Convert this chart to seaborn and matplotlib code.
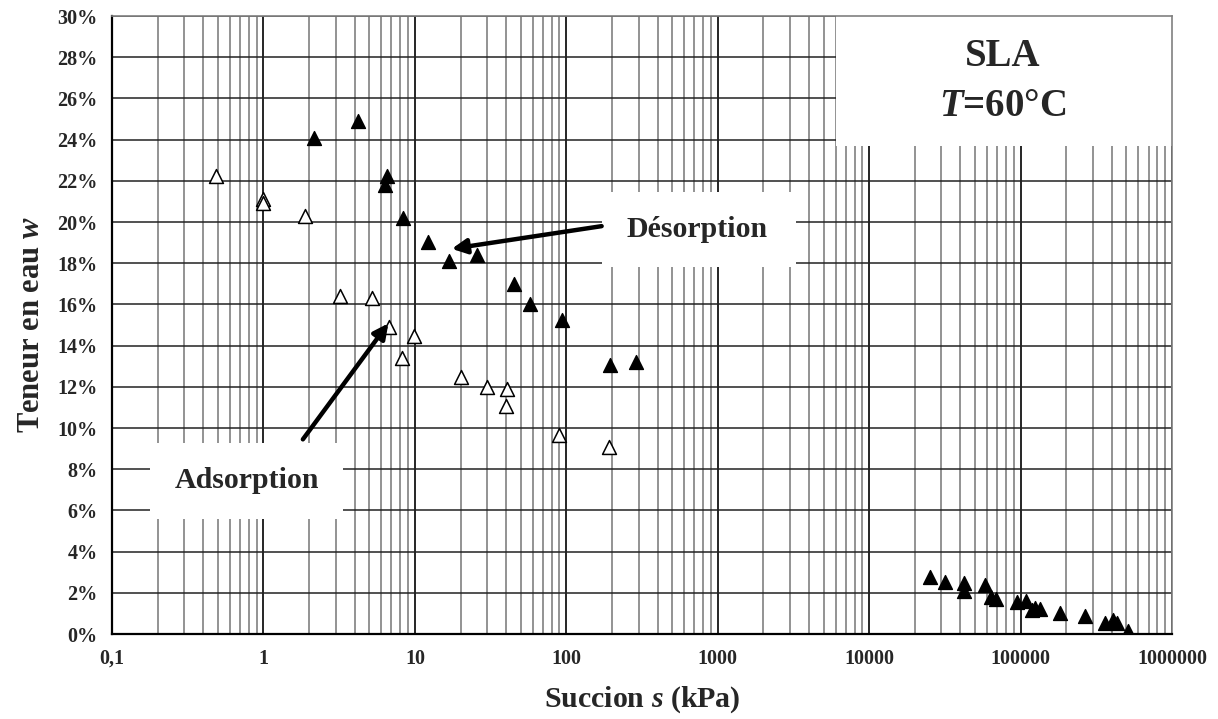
import numpy as np
import pandas as pd
import matplotlib
matplotlib.use("Agg")
import matplotlib.pyplot as plt
import matplotlib.ticker as mticker
from matplotlib.patches import Rectangle
import seaborn as sns

# desorption branch (filled triangles): suction in kPa, water content in %
desorption_s = [2.16, 4.2, 6.59, 6.3, 8.32, 12.2, 16.9, 25.6, 44.8, 57.6, 94.3, 194, 289,
                25300, 31800, 42300, 42300, 58500, 63400, 69100, 95000, 109000, 119000,
                124000, 134000, 181000, 267000, 359000, 408000, 435000, 512000]
desorption_w = [24.09, 24.92, 22.25, 21.82, 20.2, 19.03, 18.11, 18.38, 17.0, 16.0, 15.25, 13.06, 13.19,
                2.75, 2.54, 2.49, 2.10, 2.38, 1.81, 1.68, 1.57, 1.62, 1.17,
                1.25, 1.2, 1.0, 0.87, 0.52, 0.68, 0.55, 0.16]

# adsorption branch (open triangles)
adsorption_s = [0.486, 0.99, 0.99, 1.88, 3.2, 5.19, 6.79, 9.88, 8.19, 20.1, 29.8, 40.4, 39.8, 90, 190]
adsorption_w = [22.25, 21.14, 20.9, 20.27, 16.39, 16.3, 14.89, 14.48, 13.39, 12.47, 11.98, 11.87, 11.06, 9.68, 9.08]

x_ticks = [0.1, 1, 10, 100, 1000, 10000, 100000, 1000000]
x_tick_labels = ["0,1", "1", "10", "100", "1000", "10000", "100000", "1000000"]
y_ticks = list(range(0, 31, 2))
y_tick_labels = [f"{v}%" for v in y_ticks]

desorption = pd.DataFrame({"s": desorption_s, "w": desorption_w})
adsorption = pd.DataFrame({"s": adsorption_s, "w": adsorption_w})

sns.set_style("white")
plt.rcParams['font.family'] = ['Liberation Serif', 'DejaVu Serif']
plt.rcParams['font.weight'] = 'bold'
plt.rcParams['mathtext.fontset'] = 'custom'
plt.rcParams['mathtext.it'] = 'Liberation Serif:italic:bold'
plt.rcParams['mathtext.rm'] = 'Liberation Serif:bold'

fig = plt.figure(figsize=(12.18, 7.19), dpi=100)
ax = fig.add_axes([0.092, 0.1182, 0.8703, 0.8595])

sns.scatterplot(data=desorption, x="s", y="w", ax=ax, marker="^", s=100,
                color="black", edgecolor="black", linewidth=1, zorder=3)
sns.scatterplot(data=adsorption, x="s", y="w", ax=ax, marker="^", s=100,
                color="white", edgecolor="black", linewidth=1.1, zorder=3)

ax.set_xscale("log")
ax.set_xlim(0.1, 1e6)
ax.set_ylim(0, 30)
ax.set_xticks(x_ticks)
ax.set_xticklabels(x_tick_labels, fontsize=14.5, fontweight="bold")
ax.xaxis.set_minor_locator(mticker.LogLocator(base=10, subs=range(2, 10), numticks=20))
ax.xaxis.set_minor_formatter(mticker.NullFormatter())
ax.set_yticks(y_ticks)
ax.set_yticklabels(y_tick_labels, fontsize=14.5, fontweight="bold")

ax.tick_params(axis="x", which="major", direction="out", length=4.5, width=1.2, pad=6, color="black")
ax.tick_params(axis="x", which="minor", length=0)
ax.tick_params(axis="y", which="major", direction="out", length=4.5, width=1.2, pad=6, color="black")

ax.grid(True, which="major", axis="x", color="black", linewidth=1.2, zorder=0)
ax.grid(True, which="minor", axis="x", color="#808080", linewidth=1.2, zorder=0)
ax.grid(True, which="major", axis="y", color="#222222", linewidth=1.1, zorder=0)
ax.set_axisbelow(True)

for side in ["left", "bottom"]:
    ax.spines[side].set_color("black")
    ax.spines[side].set_linewidth(1.6)
for side in ["top", "right"]:
    ax.spines[side].set_color("#808080")
    ax.spines[side].set_linewidth(1.2)

ax.set_xlabel("Succion $s$ (kPa)", fontsize=21.5, fontweight="bold", labelpad=11)
ax.set_ylabel("Teneur en eau $w$", fontsize=22, fontweight="bold", labelpad=8)

# white boxes hiding the grid behind the labels
for x0, y0, w, h in [(0.683, 0.790, 0.317, 0.210), (0.462, 0.594, 0.183, 0.121), (0.036, 0.186, 0.182, 0.123)]:
    ax.add_patch(Rectangle((x0, y0), w, h, transform=ax.transAxes, facecolor="white",
                           edgecolor="none", zorder=1.5))

ax.text(0.840, 0.934, "SLA", transform=ax.transAxes, ha="center", va="center",
        fontsize=28, fontweight="bold", zorder=4)
ax.text(0.840, 0.853, "$T$=60°C", transform=ax.transAxes, ha="center", va="center",
        fontsize=28, fontweight="bold", zorder=4)
ax.text(0.552, 0.654, "Désorption", transform=ax.transAxes, ha="center", va="center",
        fontsize=21.5, fontweight="bold", zorder=4)
ax.text(0.127, 0.248, "Adsorption", transform=ax.transAxes, ha="center", va="center",
        fontsize=21.5, fontweight="bold", zorder=4)

ax.annotate("", xy=(17.5, 18.7), xytext=(171, 19.8),
            arrowprops=dict(arrowstyle="-|>", lw=3.2, color="black", mutation_scale=22,
                            shrinkA=0, shrinkB=0), zorder=5)
ax.annotate("", xy=(6.68, 15.08), xytext=(1.82, 9.45),
            arrowprops=dict(arrowstyle="-|>", lw=3.2, color="black", mutation_scale=22,
                            shrinkA=0, shrinkB=0), zorder=5)

fig.savefig("out.png", dpi=100)
